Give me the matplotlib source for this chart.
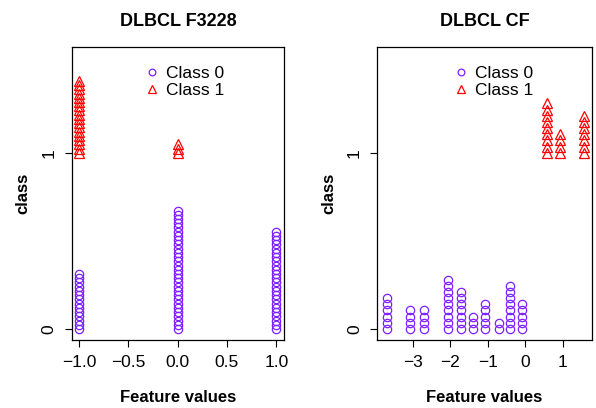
import numpy as np
import matplotlib
matplotlib.use('Agg')
import matplotlib.pyplot as plt

plt.rcParams['font.family'] = ['Liberation Sans', 'DejaVu Sans']

# left panel: DLBCL F3228 (feature value, number of stacked points)
left_x0 = [-1.0, 0.0, 1.0]
left_n0 = [14, 29, 24]
left_x1 = [-1.0, 0.0]
left_n1 = [18, 3]

# right panel: DLBCL CF
right_x0 = [-3.70, -3.07, -2.71, -2.07, -1.71, -1.40, -1.06, -0.70, -0.41, -0.07]
right_n0 = [6, 4, 4, 9, 7, 3, 5, 2, 8, 5]
right_x1 = [0.59, 0.93, 1.58]
right_n1 = [9, 4, 7]

titles = ['DLBCL F3228', 'DLBCL CF']
purple = '#7f1fff'


def stack(xs, ns, base, step):
    px, py = [], []
    for x, n in zip(xs, ns):
        for k in range(n):
            px.append(x)
            py.append(base + k*step)
    return np.array(px), np.array(py)


fig = plt.figure(figsize=(5.96, 4.08), dpi=100)
ax1 = fig.add_axes([0.1203, 0.1667, 0.3562, 0.7181])
ax2 = fig.add_axes([0.6331, 0.1667, 0.3597, 0.7181])

panels = [
    (ax1, left_x0, left_n0, left_x1, left_n1, 0.024, (-1.074, 1.078), [-1.0, -0.5, 0.0, 0.5, 1.0], 0.532),
    (ax2, right_x0, right_n0, right_x1, right_n1, 0.035, (-3.95, 1.78), [-3, -2, -1, 0, 1], 0.542),
]

for i, (ax, x0, n0, x1, n1, step, xlim, xt, legx) in enumerate(panels):
    cx, cy = stack(x0, n0, 0, step)
    tx, ty = stack(x1, n1, 1, step)
    ax.plot(cx, cy, 'o', ls='none', mfc='none', mec=purple, ms=6, mew=0.9, label='Class 0')
    ax.plot(tx, ty, '^', ls='none', mfc='none', mec='red', ms=7, mew=0.9, label='Class 1')
    ax.set_xlim(xlim)
    ax.set_ylim(-0.0625, 1.60)
    ax.set_xticks(xt)
    if i == 0:
        ax.set_xticklabels(['\u22121.0', '\u22120.5', '0.0', '0.5', '1.0'])
    else:
        ax.set_xticklabels(['\u22123', '\u22122', '\u22121', '0', '1'])
    ax.set_yticks([0, 1])
    ax.set_yticklabels(['0', '1'], rotation=90, va='center')
    ax.tick_params(direction='out', length=5, width=0.8, labelsize=12.5, pad=6)
    for s in ax.spines.values():
        s.set_linewidth(0.9)
    ax.set_title(titles[i], fontsize=13, fontweight='bold', pad=15)
    ax.set_xlabel('Feature values', fontsize=12, fontweight='bold', labelpad=14)
    ax.set_ylabel('class', fontsize=12, fontweight='bold', labelpad=8)
    ax.legend(loc='upper center', bbox_to_anchor=(legx, 0.978), frameon=False,
              fontsize=12.5, handlelength=0.8, handletextpad=0.4, labelspacing=0.1,
              borderpad=0.2, markerscale=0.8)

fig.savefig('out.png', dpi=100)
